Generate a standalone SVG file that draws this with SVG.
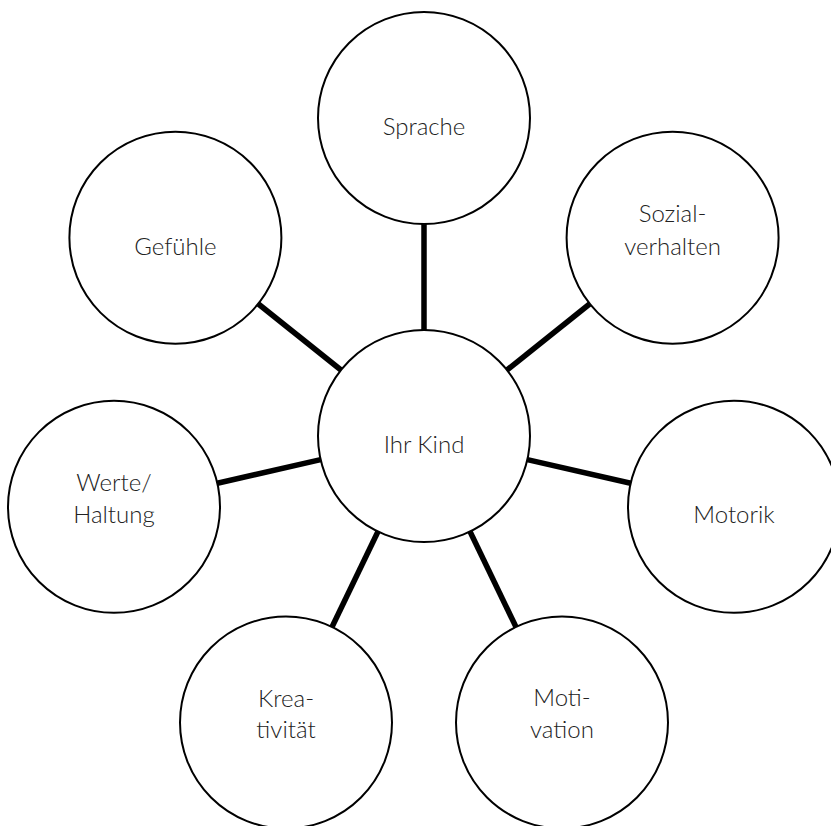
<svg xmlns="http://www.w3.org/2000/svg" width="831" height="826" viewBox="0 0 831 826">
  <style>
    .bubble { fill: #ffffff; stroke: #000000; stroke-width: 2; }
    .link { stroke: #000000; stroke-width: 5.5; stroke-linecap: butt; }
    .label { font-family: "Lato", "Open Sans", sans-serif; font-size: 24px; font-weight: 300; fill: #222222; text-anchor: middle; }
  </style>
  <rect x="0" y="0" width="831" height="826" fill="#ffffff"/>

  <!-- spokes: each runs from the hub edge to the outer bubble edge -->
  <g id="connectors">
    <line class="link" x1="424" y1="330" x2="424" y2="224"/>
    <line class="link" x1="507" y1="370" x2="589.6" y2="304"/>
    <line class="link" x1="527.3" y1="459.6" x2="630.7" y2="483.2"/>
    <line class="link" x1="470" y1="531.5" x2="516" y2="627"/>
    <line class="link" x1="378" y1="531.5" x2="332" y2="627"/>
    <line class="link" x1="320.7" y1="459.6" x2="217.3" y2="483.2"/>
    <line class="link" x1="341" y1="370" x2="258.4" y2="304"/>
  </g>

  <g id="hub">
    <circle class="bubble" cx="424" cy="436" r="106"/>
    <text class="label" x="424" y="453">Ihr Kind</text>
  </g>

  <g id="sprache">
    <circle class="bubble" cx="424" cy="118" r="106"/>
    <text class="label" x="424" y="135">Sprache</text>
  </g>

  <g id="sozialverhalten">
    <circle class="bubble" cx="672.6" cy="237.7" r="106"/>
    <text class="label" x="672.6" y="222">Sozial-</text>
    <text class="label" x="672.6" y="255">verhalten</text>
  </g>

  <g id="motorik">
    <circle class="bubble" cx="734" cy="506.8" r="106"/>
    <text class="label" x="734" y="523">Motorik</text>
  </g>

  <g id="motivation">
    <circle class="bubble" cx="562" cy="722.5" r="106"/>
    <text class="label" x="562" y="706">Moti-</text>
    <text class="label" x="562" y="738">vation</text>
  </g>

  <g id="kreativitaet">
    <circle class="bubble" cx="286" cy="722.5" r="106"/>
    <text class="label" x="286" y="707">Krea-</text>
    <text class="label" x="286" y="738">tivität</text>
  </g>

  <g id="werte-haltung">
    <circle class="bubble" cx="114" cy="506.8" r="106"/>
    <text class="label" x="114" y="491">Werte/</text>
    <text class="label" x="114" y="523">Haltung</text>
  </g>

  <g id="gefuehle">
    <circle class="bubble" cx="175.4" cy="237.7" r="106"/>
    <text class="label" x="175.4" y="255">Gefühle</text>
  </g>
</svg>
